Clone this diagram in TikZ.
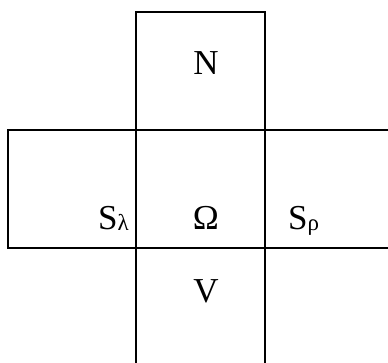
\documentclass[tikz,border=0pt]{standalone}
\usepackage{fontspec}
\setmainfont{Liberation Serif}
\newcommand{\subtxt}[1]{\raisebox{-1.5pt}{\fontsize{23}{26}\selectfont #1}}
\begin{document}
\begin{tikzpicture}[x=1pt,y=1pt,
  edge/.style={line width=2.2pt, line cap=rect},
  lbl/.style={inner sep=0pt, font=\fontsize{35}{40}\selectfont}]
\useasboundingbox (0,0) rectangle (388,362);
% corners
\coordinate (a1) at (136,350); \coordinate (a2) at (265,350);
\coordinate (b0) at (8,232); \coordinate (b1) at (136,232); \coordinate (b2) at (265,232); \coordinate (b3) at (389,232);
\coordinate (c0) at (8,114); \coordinate (c1) at (136,114); \coordinate (c2) at (265,114); \coordinate (c3) at (389,114);
\coordinate (d1) at (136,-1); \coordinate (d2) at (265,-1);
\draw[edge] (b1) -- (a1) -- (a2) -- (b2);
\draw[edge] (b0) -- (b3);
\draw[edge] (c0) -- (c3);
\draw[edge] (b0) -- (c0);
\draw[edge] (a1) -- (d1);
\draw[edge] (a2) -- (d2);
% labels
\node[lbl] (N) at (206,299) {N};
\node[lbl, anchor=base] (O) at (206,133) {Ω};
\node[lbl, anchor=base] (V) at (206,60) {V};
\node[lbl, anchor=base east] (SL) at (129,133) {S\subtxt{λ}};
\node[lbl, anchor=base west] (SR) at (288,133) {S\subtxt{ρ}};
\end{tikzpicture}
\end{document}
